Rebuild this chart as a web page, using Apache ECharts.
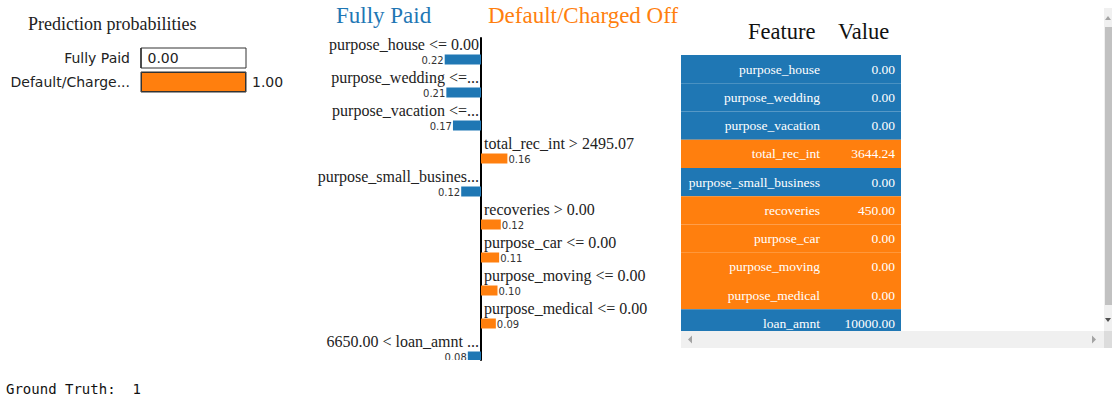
<!DOCTYPE html>
<html>
<head>
<meta charset="utf-8">
<script src="https://cdn.jsdelivr.net/npm/echarts@6/dist/echarts.min.js"></script>
<style>
  html, body { margin: 0; padding: 0; background: #fff; }
  #main { width: 1112px; height: 400px; }
</style>
</head>
<body>
<div id="main"></div>
<script>
// prediction probabilities
const probClasses = ['Fully Paid', 'Default/Charge...']
const probValues = [0.00, 1.00]

// explanation weights (negative = Fully Paid, positive = Default/Charged Off)
const expLabels = [
  'purpose_house <= 0.00',
  'purpose_wedding <=...',
  'purpose_vacation <=...',
  'total_rec_int > 2495.07',
  'purpose_small_busines...',
  'recoveries > 0.00',
  'purpose_car <= 0.00',
  'purpose_moving <= 0.00',
  'purpose_medical <= 0.00',
  '6650.00 < loan_amnt ...'
]
const expWeights = [-0.22, -0.21, -0.17, 0.16, -0.12, 0.12, 0.11, 0.10, 0.09, -0.08]

// feature / value table
const tableFeatures = ['purpose_house', 'purpose_wedding', 'purpose_vacation', 'total_rec_int',
  'purpose_small_business', 'recoveries', 'purpose_car', 'purpose_moving', 'purpose_medical', 'loan_amnt']
const tableValues = [0, 0, 0, 3644.24, 0, 450, 0, 0, 0, 10000]

const groundTruth = 1

const BLUE = '#1f77b4'
const ORANGE = '#ff7f0e'
const SERIF = '"Liberation Serif", "DejaVu Serif", serif'
const SANS = '"DejaVu Sans", sans-serif'

const chart = echarts.init(document.getElementById('main'), null, { renderer: 'svg' })

const rowPx = 33
const expTop = 38
const expBottom = 360

chart.setOption({
  animation: false,
  grid: [
    { left: 141, top: 46, width: 105, height: 48 },
    { left: 316, top: expTop, width: 330, height: expBottom - expTop },
    { left: 681, top: 55, width: 220, height: 282.5 }
  ],
  xAxis: [
    { gridIndex: 0, type: 'value', min: 0, max: 1, show: false },
    { gridIndex: 1, type: 'value', min: -1, max: 1, show: false },
    { gridIndex: 2, type: 'value', min: 0, max: 1, show: false }
  ],
  yAxis: [
    {
      gridIndex: 0,
      type: 'category',
      inverse: true,
      data: probClasses,
      axisLine: { show: false },
      axisTick: { show: false },
      axisLabel: { margin: 11, color: '#222', fontSize: 14, fontFamily: SANS }
    },
    {
      gridIndex: 1,
      type: 'value',
      inverse: true,
      min: 0,
      max: (expBottom - expTop) / rowPx,
      axisLine: { show: true, onZero: true, lineStyle: { color: '#000', width: 2 } },
      axisTick: { show: false },
      axisLabel: { show: false },
      splitLine: { show: false }
    },
    {
      gridIndex: 2,
      type: 'category',
      inverse: true,
      data: tableFeatures,
      show: false
    }
  ],
  series: [
    {
      type: 'bar',
      xAxisIndex: 0,
      yAxisIndex: 0,
      barWidth: 20,
      showBackground: true,
      backgroundStyle: { color: '#fff', borderColor: '#333', borderWidth: 1 },
      data: probValues.map((v, i) => ({
        value: v,
        itemStyle: { color: i === 0 ? BLUE : ORANGE, borderColor: '#333', borderWidth: 1 }
      })),
      label: {
        show: true,
        position: 'right',
        distance: 6,
        color: '#222',
        fontSize: 14,
        fontFamily: SANS,
        formatter: p => p.value.toFixed(2)
      }
    },
    {
      type: 'custom',
      xAxisIndex: 1,
      yAxisIndex: 1,
      clip: false,
      data: expWeights.map((w, i) => [w, i]),
      renderItem(params, api) {
        const w = api.value(0)
        const row = api.value(1)
        const cs = params.coordSys
        const c0 = api.coord([0, row + 0.5])
        const c1 = api.coord([w, row + 0.5])
        const neg = w < 0
        const x = Math.min(c0[0], c1[0])
        const width = Math.abs(c1[0] - c0[0])
        const cy = c0[1]
        return {
          type: 'group',
          clipPath: { type: 'rect', shape: { x: cs.x - 200, y: cs.y - 30, width: cs.width + 400, height: cs.height + 30 } },
          children: [
            {
              type: 'rect',
              shape: { x: x, y: cy, width: width, height: 10 },
              style: { fill: neg ? BLUE : ORANGE }
            },
            {
              type: 'text',
              style: {
                text: expLabels[params.dataIndex],
                x: neg ? c0[0] - 2 : c0[0] + 3,
                y: cy - 10.5,
                align: neg ? 'right' : 'left',
                verticalAlign: 'middle',
                font: '16px ' + SERIF,
                fill: '#222'
              }
            },
            {
              type: 'text',
              style: {
                text: Math.abs(w).toFixed(2),
                x: neg ? x - 1 : x + width + 1,
                y: cy + 5.5,
                align: neg ? 'right' : 'left',
                verticalAlign: 'middle',
                font: '10px ' + SANS,
                fill: '#333'
              }
            }
          ]
        }
      }
    },
    {
      type: 'custom',
      xAxisIndex: 2,
      yAxisIndex: 2,
      data: tableValues.map((v, i) => [0, i, v]),
      renderItem(params, api) {
        const i = params.dataIndex
        const cs = params.coordSys
        const c = api.coord([0, i])
        const band = api.size([0, 1])[1]
        const top = c[1] - band / 2
        return {
          type: 'group',
          children: [
            {
              type: 'rect',
              shape: { x: cs.x, y: top, width: cs.width, height: band },
              style: { fill: expWeights[i] < 0 ? BLUE : ORANGE }
            },
            {
              type: 'text',
              style: {
                text: tableFeatures[i], x: cs.x + 139, y: c[1],
                align: 'right', verticalAlign: 'middle', font: '13.5px ' + SERIF, fill: '#fff'
              }
            },
            {
              type: 'text',
              style: {
                text: api.value(2).toFixed(2), x: cs.x + 214, y: c[1],
                align: 'right', verticalAlign: 'middle', font: '13.5px ' + SERIF, fill: '#fff'
              }
            }
          ]
        }
      }
    }
  ],
  graphic: [
    { type: 'text', left: 28, top: 15, style: { text: 'Prediction probabilities', font: '18px ' + SERIF, fill: '#222' } },
    { type: 'text', left: 336, top: 4, style: { text: 'Fully Paid', font: '23px ' + SERIF, fill: BLUE } },
    { type: 'text', left: 488, top: 4, style: { text: 'Default/Charged Off', font: '23px ' + SERIF, fill: ORANGE } },
    { type: 'text', left: 748, top: 20, style: { text: 'Feature', font: '22.5px ' + SERIF, fill: '#111' } },
    { type: 'text', left: 838, top: 20, style: { text: 'Value', font: '22.5px ' + SERIF, fill: '#111' } },
    // scroll bars of the table frame
    { type: 'rect', z: 100, shape: { x: 1104, y: 8, width: 8, height: 323 }, style: { fill: '#f0f0f0' } },
    { type: 'rect', z: 101, shape: { x: 1105, y: 27, width: 7, height: 278 }, style: { fill: '#c1c1c1' } },
    { type: 'polygon', z: 101, shape: { points: [[1108, 16], [1105, 20], [1111, 20]] }, style: { fill: '#a3a3a3' } },
    { type: 'polygon', z: 101, shape: { points: [[1108, 322], [1105, 318], [1111, 318]] }, style: { fill: '#505050' } },
    { type: 'rect', z: 100, shape: { x: 681, y: 331, width: 423, height: 17 }, style: { fill: '#f0f0f0' } },
    { type: 'rect', z: 100, shape: { x: 1104, y: 331, width: 8, height: 17 }, style: { fill: '#dcdcdc' } },
    { type: 'polygon', z: 101, shape: { points: [[688, 339.5], [692, 335.5], [692, 343.5]] }, style: { fill: '#a3a3a3' } },
    { type: 'polygon', z: 101, shape: { points: [[1096, 339.5], [1092, 335.5], [1092, 343.5]] }, style: { fill: '#a3a3a3' } },
    { type: 'rect', z: 100, shape: { x: 681, y: 348, width: 431, height: 10 }, style: { fill: '#fff' } },
    {
      type: 'text', left: 6, top: 382,
      style: { text: 'Ground Truth:  ' + groundTruth, font: '14px "DejaVu Sans Mono", monospace', fill: '#111' }
    }
  ]
})
</script>
</body>
</html>
